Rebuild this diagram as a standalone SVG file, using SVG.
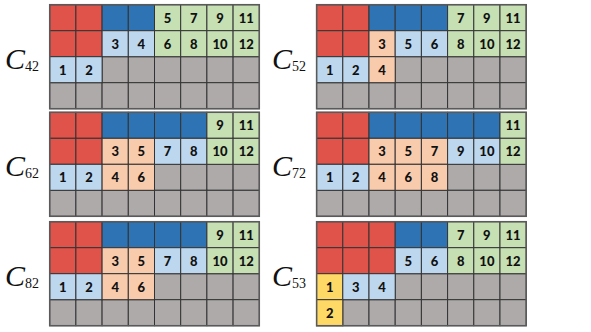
<svg xmlns="http://www.w3.org/2000/svg" width="591" height="332" viewBox="0 0 591 332">
<style>
rect{stroke:#333;stroke-width:1}
.r{fill:#E0534A}.b{fill:#2E74B5}.l{fill:#BDD7EE}.g{fill:#C6E0B4}.p{fill:#F8CBAD}.k{fill:#AEAAAA}.y{fill:#FFD966}
.o{fill:none;stroke:#5a5a5a;stroke-width:1.5}
.n{font-family:Lato,"Liberation Sans",sans-serif;font-weight:900;font-size:13px;fill:#111;text-anchor:middle;dominant-baseline:central}
.lab{font-family:"Liberation Serif","Times New Roman",serif;font-size:30px;fill:#111}
.sub{font-size:14px;font-style:normal}
</style>
<defs>
<g id="base">
<rect class="k" x="0" y="52" width="26.2" height="26"/><rect class="k" x="26.2" y="52" width="26.2" height="26"/><rect class="k" x="52.4" y="52" width="26.2" height="26"/><rect class="k" x="78.6" y="52" width="26.2" height="26"/><rect class="k" x="104.8" y="52" width="26.2" height="26"/><rect class="k" x="131" y="52" width="26.2" height="26"/><rect class="k" x="157.2" y="52" width="26.2" height="26"/><rect class="k" x="183.4" y="52" width="26.2" height="26"/>
<rect class="k" x="0" y="78" width="26.2" height="26"/><rect class="k" x="26.2" y="78" width="26.2" height="26"/><rect class="k" x="52.4" y="78" width="26.2" height="26"/><rect class="k" x="78.6" y="78" width="26.2" height="26"/><rect class="k" x="104.8" y="78" width="26.2" height="26"/><rect class="k" x="131" y="78" width="26.2" height="26"/><rect class="k" x="157.2" y="78" width="26.2" height="26"/><rect class="k" x="183.4" y="78" width="26.2" height="26"/>
</g>
</defs>

<!-- C42 -->
<g id="c42">
<text class="lab" x="5" y="68.5"><tspan font-style="italic">C</tspan><tspan class="sub" dy="2">42</tspan></text>
<g transform="translate(49.7,4.7)">
<use href="#base"/>
<rect class="r" x="0" y="0" width="26.2" height="26"/><rect class="r" x="26.2" y="0" width="26.2" height="26"/><rect class="b" x="52.4" y="0" width="26.2" height="26"/><rect class="b" x="78.6" y="0" width="26.2" height="26"/><rect class="g" x="104.8" y="0" width="26.2" height="26"/><rect class="g" x="131" y="0" width="26.2" height="26"/><rect class="g" x="157.2" y="0" width="26.2" height="26"/><rect class="g" x="183.4" y="0" width="26.2" height="26"/>
<rect class="r" x="0" y="26" width="26.2" height="26"/><rect class="r" x="26.2" y="26" width="26.2" height="26"/><rect class="l" x="52.4" y="26" width="26.2" height="26"/><rect class="l" x="78.6" y="26" width="26.2" height="26"/><rect class="g" x="104.8" y="26" width="26.2" height="26"/><rect class="g" x="131" y="26" width="26.2" height="26"/><rect class="g" x="157.2" y="26" width="26.2" height="26"/><rect class="g" x="183.4" y="26" width="26.2" height="26"/>
<rect class="l" x="0" y="52" width="26.2" height="26"/><rect class="l" x="26.2" y="52" width="26.2" height="26"/>
<rect class="o" x="0" y="0" width="209.6" height="104"/>
<text class="n" x="117.9" y="13">5</text><text class="n" x="144.1" y="13">7</text><text class="n" x="170.3" y="13">9</text><text class="n" x="196.5" y="13">11</text>
<text class="n" x="65.5" y="39">3</text><text class="n" x="91.7" y="39">4</text><text class="n" x="117.9" y="39">6</text><text class="n" x="144.1" y="39">8</text><text class="n" x="170.3" y="39">10</text><text class="n" x="196.5" y="39">12</text>
<text class="n" x="13.1" y="65">1</text><text class="n" x="39.3" y="65">2</text>
</g>
</g>

<!-- C52 -->
<g id="c52">
<text class="lab" x="272" y="68.5"><tspan font-style="italic">C</tspan><tspan class="sub" dy="2">52</tspan></text>
<g transform="translate(316.6,4.7)">
<use href="#base"/>
<rect class="r" x="0" y="0" width="26.2" height="26"/><rect class="r" x="26.2" y="0" width="26.2" height="26"/><rect class="b" x="52.4" y="0" width="26.2" height="26"/><rect class="b" x="78.6" y="0" width="26.2" height="26"/><rect class="b" x="104.8" y="0" width="26.2" height="26"/><rect class="g" x="131" y="0" width="26.2" height="26"/><rect class="g" x="157.2" y="0" width="26.2" height="26"/><rect class="g" x="183.4" y="0" width="26.2" height="26"/>
<rect class="r" x="0" y="26" width="26.2" height="26"/><rect class="r" x="26.2" y="26" width="26.2" height="26"/><rect class="p" x="52.4" y="26" width="26.2" height="26"/><rect class="l" x="78.6" y="26" width="26.2" height="26"/><rect class="l" x="104.8" y="26" width="26.2" height="26"/><rect class="g" x="131" y="26" width="26.2" height="26"/><rect class="g" x="157.2" y="26" width="26.2" height="26"/><rect class="g" x="183.4" y="26" width="26.2" height="26"/>
<rect class="l" x="0" y="52" width="26.2" height="26"/><rect class="l" x="26.2" y="52" width="26.2" height="26"/><rect class="p" x="52.4" y="52" width="26.2" height="26"/>
<rect class="o" x="0" y="0" width="209.6" height="104"/>
<text class="n" x="144.1" y="13">7</text><text class="n" x="170.3" y="13">9</text><text class="n" x="196.5" y="13">11</text>
<text class="n" x="65.5" y="39">3</text><text class="n" x="91.7" y="39">5</text><text class="n" x="117.9" y="39">6</text><text class="n" x="144.1" y="39">8</text><text class="n" x="170.3" y="39">10</text><text class="n" x="196.5" y="39">12</text>
<text class="n" x="13.1" y="65">1</text><text class="n" x="39.3" y="65">2</text><text class="n" x="65.5" y="65">4</text>
</g>
</g>

<!-- C62 -->
<g id="c62">
<text class="lab" x="5" y="176"><tspan font-style="italic">C</tspan><tspan class="sub" dy="2">62</tspan></text>
<g transform="translate(49.7,112.3)">
<use href="#base"/>
<rect class="r" x="0" y="0" width="26.2" height="26"/><rect class="r" x="26.2" y="0" width="26.2" height="26"/><rect class="b" x="52.4" y="0" width="26.2" height="26"/><rect class="b" x="78.6" y="0" width="26.2" height="26"/><rect class="b" x="104.8" y="0" width="26.2" height="26"/><rect class="b" x="131" y="0" width="26.2" height="26"/><rect class="g" x="157.2" y="0" width="26.2" height="26"/><rect class="g" x="183.4" y="0" width="26.2" height="26"/>
<rect class="r" x="0" y="26" width="26.2" height="26"/><rect class="r" x="26.2" y="26" width="26.2" height="26"/><rect class="p" x="52.4" y="26" width="26.2" height="26"/><rect class="p" x="78.6" y="26" width="26.2" height="26"/><rect class="l" x="104.8" y="26" width="26.2" height="26"/><rect class="l" x="131" y="26" width="26.2" height="26"/><rect class="g" x="157.2" y="26" width="26.2" height="26"/><rect class="g" x="183.4" y="26" width="26.2" height="26"/>
<rect class="l" x="0" y="52" width="26.2" height="26"/><rect class="l" x="26.2" y="52" width="26.2" height="26"/><rect class="p" x="52.4" y="52" width="26.2" height="26"/><rect class="p" x="78.6" y="52" width="26.2" height="26"/>
<rect class="o" x="0" y="0" width="209.6" height="104"/>
<text class="n" x="170.3" y="13">9</text><text class="n" x="196.5" y="13">11</text>
<text class="n" x="65.5" y="39">3</text><text class="n" x="91.7" y="39">5</text><text class="n" x="117.9" y="39">7</text><text class="n" x="144.1" y="39">8</text><text class="n" x="170.3" y="39">10</text><text class="n" x="196.5" y="39">12</text>
<text class="n" x="13.1" y="65">1</text><text class="n" x="39.3" y="65">2</text><text class="n" x="65.5" y="65">4</text><text class="n" x="91.7" y="65">6</text>
</g>
</g>

<!-- C72 -->
<g id="c72">
<text class="lab" x="272" y="176"><tspan font-style="italic">C</tspan><tspan class="sub" dy="2">72</tspan></text>
<g transform="translate(316.6,112.3)">
<use href="#base"/>
<rect class="r" x="0" y="0" width="26.2" height="26"/><rect class="r" x="26.2" y="0" width="26.2" height="26"/><rect class="b" x="52.4" y="0" width="26.2" height="26"/><rect class="b" x="78.6" y="0" width="26.2" height="26"/><rect class="b" x="104.8" y="0" width="26.2" height="26"/><rect class="b" x="131" y="0" width="26.2" height="26"/><rect class="b" x="157.2" y="0" width="26.2" height="26"/><rect class="g" x="183.4" y="0" width="26.2" height="26"/>
<rect class="r" x="0" y="26" width="26.2" height="26"/><rect class="r" x="26.2" y="26" width="26.2" height="26"/><rect class="p" x="52.4" y="26" width="26.2" height="26"/><rect class="p" x="78.6" y="26" width="26.2" height="26"/><rect class="p" x="104.8" y="26" width="26.2" height="26"/><rect class="l" x="131" y="26" width="26.2" height="26"/><rect class="l" x="157.2" y="26" width="26.2" height="26"/><rect class="g" x="183.4" y="26" width="26.2" height="26"/>
<rect class="l" x="0" y="52" width="26.2" height="26"/><rect class="l" x="26.2" y="52" width="26.2" height="26"/><rect class="p" x="52.4" y="52" width="26.2" height="26"/><rect class="p" x="78.6" y="52" width="26.2" height="26"/><rect class="p" x="104.8" y="52" width="26.2" height="26"/>
<rect class="o" x="0" y="0" width="209.6" height="104"/>
<text class="n" x="196.5" y="13">11</text>
<text class="n" x="65.5" y="39">3</text><text class="n" x="91.7" y="39">5</text><text class="n" x="117.9" y="39">7</text><text class="n" x="144.1" y="39">9</text><text class="n" x="170.3" y="39">10</text><text class="n" x="196.5" y="39">12</text>
<text class="n" x="13.1" y="65">1</text><text class="n" x="39.3" y="65">2</text><text class="n" x="65.5" y="65">4</text><text class="n" x="91.7" y="65">6</text><text class="n" x="117.9" y="65">8</text>
</g>
</g>

<!-- C82 -->
<g id="c82">
<text class="lab" x="5" y="285.5"><tspan font-style="italic">C</tspan><tspan class="sub" dy="2">82</tspan></text>
<g transform="translate(49.7,221.7)">
<use href="#base"/>
<rect class="r" x="0" y="0" width="26.2" height="26"/><rect class="r" x="26.2" y="0" width="26.2" height="26"/><rect class="b" x="52.4" y="0" width="26.2" height="26"/><rect class="b" x="78.6" y="0" width="26.2" height="26"/><rect class="b" x="104.8" y="0" width="26.2" height="26"/><rect class="b" x="131" y="0" width="26.2" height="26"/><rect class="g" x="157.2" y="0" width="26.2" height="26"/><rect class="g" x="183.4" y="0" width="26.2" height="26"/>
<rect class="r" x="0" y="26" width="26.2" height="26"/><rect class="r" x="26.2" y="26" width="26.2" height="26"/><rect class="p" x="52.4" y="26" width="26.2" height="26"/><rect class="p" x="78.6" y="26" width="26.2" height="26"/><rect class="l" x="104.8" y="26" width="26.2" height="26"/><rect class="l" x="131" y="26" width="26.2" height="26"/><rect class="g" x="157.2" y="26" width="26.2" height="26"/><rect class="g" x="183.4" y="26" width="26.2" height="26"/>
<rect class="l" x="0" y="52" width="26.2" height="26"/><rect class="l" x="26.2" y="52" width="26.2" height="26"/><rect class="p" x="52.4" y="52" width="26.2" height="26"/><rect class="p" x="78.6" y="52" width="26.2" height="26"/>
<rect class="o" x="0" y="0" width="209.6" height="104"/>
<text class="n" x="170.3" y="13">9</text><text class="n" x="196.5" y="13">11</text>
<text class="n" x="65.5" y="39">3</text><text class="n" x="91.7" y="39">5</text><text class="n" x="117.9" y="39">7</text><text class="n" x="144.1" y="39">8</text><text class="n" x="170.3" y="39">10</text><text class="n" x="196.5" y="39">12</text>
<text class="n" x="13.1" y="65">1</text><text class="n" x="39.3" y="65">2</text><text class="n" x="65.5" y="65">4</text><text class="n" x="91.7" y="65">6</text>
</g>
</g>

<!-- C53 -->
<g id="c53">
<text class="lab" x="272" y="285.5"><tspan font-style="italic">C</tspan><tspan class="sub" dy="2">53</tspan></text>
<g transform="translate(316.6,221.7)">
<use href="#base"/>
<rect class="r" x="0" y="0" width="26.2" height="26"/><rect class="r" x="26.2" y="0" width="26.2" height="26"/><rect class="r" x="52.4" y="0" width="26.2" height="26"/><rect class="b" x="78.6" y="0" width="26.2" height="26"/><rect class="b" x="104.8" y="0" width="26.2" height="26"/><rect class="g" x="131" y="0" width="26.2" height="26"/><rect class="g" x="157.2" y="0" width="26.2" height="26"/><rect class="g" x="183.4" y="0" width="26.2" height="26"/>
<rect class="r" x="0" y="26" width="26.2" height="26"/><rect class="r" x="26.2" y="26" width="26.2" height="26"/><rect class="r" x="52.4" y="26" width="26.2" height="26"/><rect class="l" x="78.6" y="26" width="26.2" height="26"/><rect class="l" x="104.8" y="26" width="26.2" height="26"/><rect class="g" x="131" y="26" width="26.2" height="26"/><rect class="g" x="157.2" y="26" width="26.2" height="26"/><rect class="g" x="183.4" y="26" width="26.2" height="26"/>
<rect class="y" x="0" y="52" width="26.2" height="26"/><rect class="l" x="26.2" y="52" width="26.2" height="26"/><rect class="l" x="52.4" y="52" width="26.2" height="26"/>
<rect class="y" x="0" y="78" width="26.2" height="26"/>
<rect class="o" x="0" y="0" width="209.6" height="104"/>
<text class="n" x="144.1" y="13">7</text><text class="n" x="170.3" y="13">9</text><text class="n" x="196.5" y="13">11</text>
<text class="n" x="91.7" y="39">5</text><text class="n" x="117.9" y="39">6</text><text class="n" x="144.1" y="39">8</text><text class="n" x="170.3" y="39">10</text><text class="n" x="196.5" y="39">12</text>
<text class="n" x="13.1" y="65">1</text><text class="n" x="39.3" y="65">3</text><text class="n" x="65.5" y="65">4</text>
<text class="n" x="13.1" y="91">2</text>
</g>
</g>
</svg>
